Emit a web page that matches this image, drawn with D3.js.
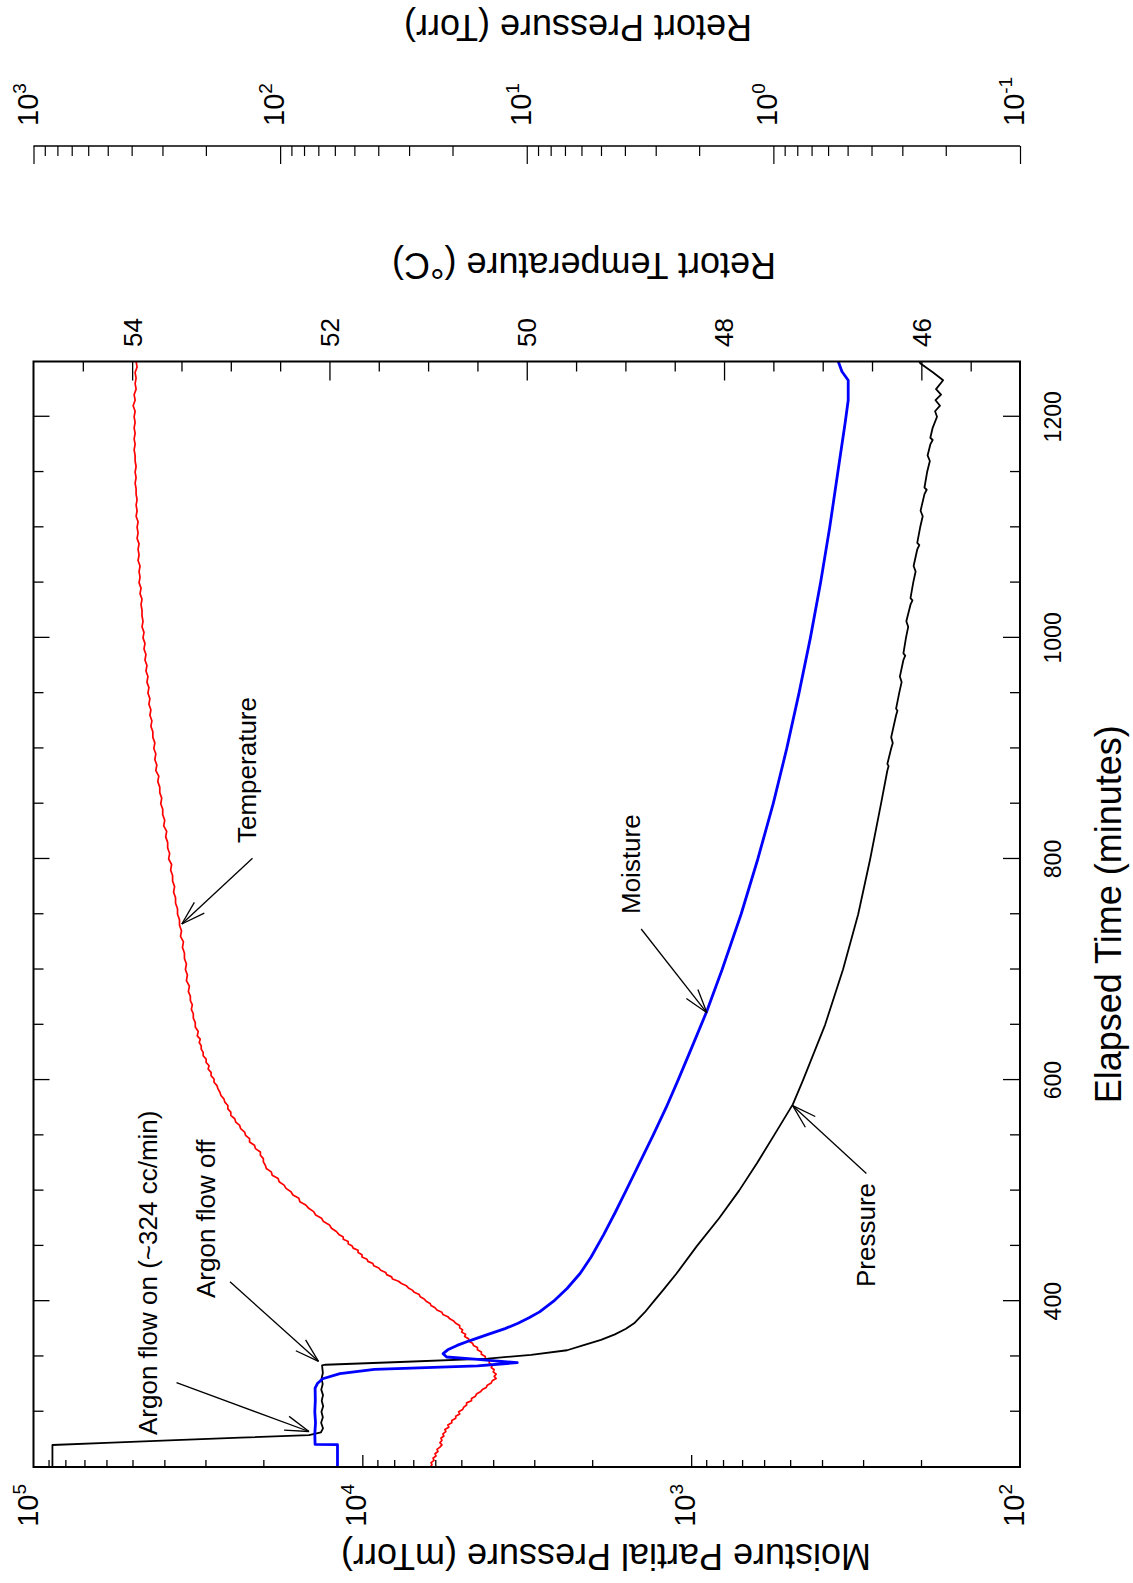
<!DOCTYPE html>
<html><head><meta charset="utf-8">
<script src="https://cdn.jsdelivr.net/npm/d3@7"></script>
<style>
html,body{margin:0;padding:0;background:#fff;}
svg{display:block;}
text{font-family:"Liberation Sans", Arial, Helvetica, sans-serif; fill:#000;}
</style></head><body>
<svg id="chart" width="1133" height="1583"></svg>
<script>
// ---------------- DATA ----------------
const timeDomain = [250, 1250];
const moistureDomain = [1e5, 1e2];
const temperatureDomain = [55, 45];
const pressureDomain = [1e3, 1e-1];

const timeTickLabels = [400, 600, 800, 1000, 1200];
const temperatureTickLabels = [54, 52, 50, 48, 46];
const moistureTickExponents = [5, 4, 3, 2];
const pressureTickExponents = [3, 2, 1, 0, -1];

// Retort temperature (deg C) vs elapsed time (min)
const temperatureSeries = [[250,50.98],[252,50.96],[254,50.97],[256,50.94],[258,50.95],[260,50.92],[262,50.93],[264,50.90],[266,50.91],[268,50.88],[270,50.86],[272,50.88],[274,50.86],[276,50.87],[278,50.84],[280,50.85],[282,50.82],[284,50.83],[286,50.79],[288,50.80],[290,50.76],[292,50.76],[294,50.72],[296,50.72],[298,50.68],[300,50.69],[302,50.65],[304,50.64],[306,50.61],[308,50.61],[310,50.56],[312,50.56],[314,50.52],[316,50.51],[318,50.47],[320,50.45],[322,50.41],[324,50.40],[326,50.36],[328,50.35],[330,50.31],[332,50.33],[334,50.31],[336,50.34],[338,50.33],[340,50.36],[342,50.35],[344,50.38],[346,50.38],[348,50.42],[350,50.42],[352,50.46],[354,50.46],[356,50.50],[358,50.50],[360,50.54],[362,50.55],[364,50.59],[366,50.59],[368,50.63],[370,50.62],[372,50.66],[374,50.65],[376,50.68],[378,50.68],[380,50.72],[382,50.74],[384,50.78],[386,50.80],[388,50.85],[390,50.86],[392,50.91],[394,50.93],[396,50.97],[398,50.98],[400,51.02],[402,51.04],[404,51.08],[406,51.09],[408,51.14],[410,51.16],[412,51.20],[414,51.22],[416,51.27],[418,51.30],[420,51.36],[422,51.37],[424,51.42],[426,51.43],[428,51.48],[430,51.50],[432,51.55],[434,51.56],[436,51.61],[438,51.62],[440,51.67],[442,51.67],[444,51.71],[446,51.71],[448,51.76],[450,51.77],[452,51.81],[454,51.81],[456,51.86],[458,51.86],[460,51.90],[463,51.93],[466,51.98],[469,52.00],[472,52.06],[475,52.08],[478,52.14],[481,52.16],[484,52.21],[487,52.24],[490,52.30],[493,52.31],[496,52.37],[499,52.39],[502,52.44],[505,52.46],[508,52.51],[511,52.52],[514,52.58],[517,52.59],[520,52.64],[523,52.65],[526,52.67],[529,52.67],[532,52.70],[535,52.70],[538,52.75],[541,52.76],[544,52.81],[547,52.81],[550,52.85],[553,52.86],[556,52.90],[559,52.91],[562,52.95],[565,52.96],[568,53.00],[571,53.00],[574,53.03],[577,53.03],[580,53.06],[583,53.07],[586,53.10],[589,53.11],[592,53.13],[595,53.14],[598,53.17],[601,53.17],[604,53.20],[607,53.20],[610,53.23],[613,53.22],[616,53.25],[619,53.25],[622,53.28],[625,53.28],[628,53.30],[631,53.30],[634,53.32],[637,53.31],[640,53.34],[644,53.33],[648,53.36],[652,53.36],[656,53.38],[660,53.38],[664,53.40],[668,53.39],[672,53.41],[676,53.41],[680,53.43],[685,53.42],[690,53.45],[695,53.44],[700,53.46],[705,53.45],[710,53.47],[715,53.47],[720,53.49],[725,53.48],[730,53.51],[735,53.50],[740,53.52],[745,53.52],[750,53.54],[755,53.54],[760,53.56],[765,53.56],[770,53.58],[775,53.57],[780,53.59],[785,53.59],[790,53.61],[795,53.60],[800,53.63],[805,53.62],[810,53.64],[815,53.64],[820,53.66],[825,53.65],[830,53.68],[835,53.67],[840,53.69],[845,53.69],[850,53.71],[855,53.70],[860,53.72],[865,53.72],[870,53.74],[875,53.73],[880,53.76],[885,53.75],[890,53.77],[895,53.76],[900,53.78],[905,53.77],[910,53.79],[915,53.79],[920,53.81],[925,53.80],[930,53.82],[935,53.81],[940,53.83],[945,53.82],[950,53.84],[955,53.83],[960,53.85],[965,53.84],[970,53.86],[975,53.85],[980,53.87],[985,53.86],[990,53.88],[995,53.87],[1000,53.89],[1005,53.88],[1010,53.90],[1015,53.89],[1020,53.90],[1025,53.90],[1030,53.91],[1035,53.90],[1040,53.92],[1045,53.91],[1050,53.93],[1055,53.92],[1060,53.93],[1065,53.92],[1070,53.94],[1075,53.93],[1080,53.94],[1085,53.93],[1090,53.95],[1095,53.94],[1100,53.95],[1105,53.94],[1110,53.96],[1115,53.95],[1120,53.96],[1125,53.95],[1130,53.96],[1135,53.96],[1140,53.97],[1145,53.96],[1150,53.97],[1155,53.96],[1160,53.97],[1165,53.97],[1170,53.98],[1175,53.97],[1180,53.98],[1185,53.97],[1190,53.98],[1195,53.97],[1200,53.98],[1205,53.97],[1210,53.99],[1215,53.97],[1220,53.98],[1225,53.96],[1230,53.97],[1235,53.96],[1240,53.97],[1245,53.95],[1250,53.96]];

// Moisture partial pressure (mTorr) vs elapsed time (min)
const moistureSeries = [[250,11900],[270.2,11900],[270.4,13920],[280,13950],[290,13880],[300,13950],[310,13900],[321.4,13920],[325.5,13700],[329.8,13200],[334.4,11700],[338.3,9190],[341.4,4460],[344.4,3380],[347.3,4460],[349.5,5540],[352.5,5680],[356,5500],[360,5150],[364.6,4680],[370,4147],[375.2,3681],[380,3361],[385,3112],[390.3,2890],[400,2620],[411.5,2385],[425,2177],[440,2015],[460,1847],[480,1704],[500,1578],[525,1435],[550,1306],[575,1192],[600,1096],[630,994],[662,897],[700,805],[750,705],[800,627],[850,563],[900,512],[950,470],[1000,434],[1050,404],[1100,379],[1150,358],[1195,340],[1215,333],[1233,333],[1241,348],[1250,357]];

// Retort pressure (Torr) vs elapsed time (min)
const pressureSeries = [[250,838],[269.9,838],[272,480],[274,282],[276.5,145],[278.9,76.4],[281.4,68.3],[285,67.0],[290,68.2],[295,67.1],[300,68.0],[305,66.9],[310,67.8],[315,67.0],[320,68.1],[325,67.2],[330,67.9],[335,67.1],[341.9,67.6],[342.5,65.5],[345,32.7],[348,14.4],[351.5,9.6],[355.6,6.86],[360,5.92],[365,5.0],[370,4.39],[375,3.96],[380,3.67],[390,3.32],[400,3.05],[410,2.80],[425,2.47],[450,2.04],[475,1.66],[500,1.377],[525,1.164],[550,0.994],[578,0.834],[600,0.758],[650,0.617],[700,0.522],[750,0.453],[800,0.405],[850,0.366],[880,0.345],[884,0.341],[886,0.345],[900,0.333],[905,0.328],[910,0.333],[930,0.318],[934,0.314],[936,0.318],[950,0.309],[960,0.302],[965,0.307],[980,0.297],[984,0.292],[986,0.297],[1000,0.290],[1010,0.284],[1015,0.289],[1030,0.278],[1034,0.273],[1036,0.278],[1050,0.271],[1060,0.265],[1065,0.270],[1080,0.261],[1084,0.256],[1086,0.261],[1100,0.254],[1110,0.248],[1115,0.253],[1130,0.244],[1134,0.239],[1136,0.244],[1150,0.238],[1160,0.232],[1165,0.237],[1175,0.231],[1179,0.226],[1181,0.231],[1190,0.226],[1200,0.217],[1205,0.221],[1210,0.211],[1215,0.220],[1220,0.209],[1225,0.219],[1233,0.205],[1240,0.225],[1248.5,0.254],[1250,0.256]];

// ---------------- LAYOUT ----------------
const W = 1133, H = 1583;
const svg = d3.select("#chart");
// whole chart is drawn unrotated, then turned 90 deg counter-clockwise
const g = svg.append("g").attr("transform", `translate(0,${H}) rotate(-90)`);
const plot = {left: 116, right: 1221.5, top: 33.5, bottom: 1020};
const pressureAxisX = 1437;

const x = d3.scaleLinear().domain(timeDomain).range([plot.left, plot.right]);
const yM = d3.scaleLog().domain(moistureDomain).range([plot.top, plot.bottom]);
const yT = d3.scaleLinear().domain(temperatureDomain).range([plot.top, plot.bottom]);
const yP = d3.scaleLog().domain(pressureDomain).range([plot.top, plot.bottom]);

function styleAxis(sel, sw){
  sel.selectAll(".domain").remove();
  sel.selectAll(".tick line").attr("stroke","#000").attr("stroke-width", sw);
  sel.selectAll(".tick text").remove();
}

// clip
g.append("clipPath").attr("id","plotclip").append("rect")
  .attr("x", plot.left).attr("y", plot.top)
  .attr("width", plot.right-plot.left).attr("height", plot.bottom-plot.top);

// ---- data lines ----
const lines = g.append("g").attr("clip-path","url(#plotclip)");
lines.append("path").datum(temperatureSeries)
  .attr("fill","none").attr("stroke","#ff0000").attr("stroke-width",1.7).attr("stroke-linejoin","round")
  .attr("d", d3.line().x(d=>x(d[0])).y(d=>yT(d[1])));
lines.append("path").datum(pressureSeries)
  .attr("fill","none").attr("stroke","#000").attr("stroke-width",1.8).attr("stroke-linejoin","round")
  .attr("d", d3.line().x(d=>x(d[0])).y(d=>yP(d[1])));
lines.append("path").datum(moistureSeries)
  .attr("fill","none").attr("stroke","#0000ff").attr("stroke-width",2.8).attr("stroke-linejoin","round")
  .attr("d", d3.line().x(d=>x(d[0])).y(d=>yM(d[1])));

// ---- ticks ----
const allTimeTicks = d3.range(300, 1201, 50);
const minorTime = allTimeTicks.filter(t => !timeTickLabels.includes(t));
g.append("g").attr("transform",`translate(0,${plot.bottom})`)
  .call(d3.axisBottom(x).tickValues(minorTime).tickSize(-10).tickSizeOuter(0)).call(styleAxis,1.3);
g.append("g").attr("transform",`translate(0,${plot.bottom})`)
  .call(d3.axisBottom(x).tickValues(timeTickLabels).tickSize(-17).tickSizeOuter(0)).call(styleAxis,1.3);
g.append("g").attr("transform",`translate(0,${plot.top})`)
  .call(d3.axisTop(x).tickValues(minorTime).tickSize(-10).tickSizeOuter(0)).call(styleAxis,1.3);
g.append("g").attr("transform",`translate(0,${plot.top})`)
  .call(d3.axisTop(x).tickValues(timeTickLabels).tickSize(-16).tickSizeOuter(0)).call(styleAxis,1.3);

// moisture (left, log)
const mMajor = [1e4, 1e3];
const mMinor = [];
[1e2,1e3,1e4].forEach(b => { for (let k=2;k<=9;k++) mMinor.push(b*k); });
g.append("g").attr("transform",`translate(${plot.left},0)`)
  .call(d3.axisLeft(yM).tickValues(mMinor).tickSize(-7).tickSizeOuter(0)).call(styleAxis,1.3);
g.append("g").attr("transform",`translate(${plot.left},0)`)
  .call(d3.axisLeft(yM).tickValues(mMajor).tickSize(-12).tickSizeOuter(0)).call(styleAxis,1.3);

// temperature (right)
const tAll = d3.range(45.5, 54.6, 0.5).map(v => +v.toFixed(1));
const tMinor = tAll.filter(v => !temperatureTickLabels.includes(v));
g.append("g").attr("transform",`translate(${plot.right},0)`)
  .call(d3.axisRight(yT).tickValues(tMinor).tickSize(-10).tickSizeOuter(0)).call(styleAxis,1.3);
g.append("g").attr("transform",`translate(${plot.right},0)`)
  .call(d3.axisRight(yT).tickValues(temperatureTickLabels).tickSize(-19).tickSizeOuter(0)).call(styleAxis,1.3);

// pressure axis (far right, log)
const pMajor = pressureTickExponents.map(e => Math.pow(10,e));
const pMinor = [];
[1e-1,1e0,1e1,1e2].forEach(b => { for (let k=2;k<=9;k++) pMinor.push(b*k); });
g.append("line").attr("x1",pressureAxisX).attr("x2",pressureAxisX)
  .attr("y1",plot.top).attr("y2",plot.bottom).attr("stroke","#000").attr("stroke-width",1.4);
g.append("g").attr("transform",`translate(${pressureAxisX},0)`)
  .call(d3.axisRight(yP).tickValues(pMinor).tickSize(-10).tickSizeOuter(0)).call(styleAxis,1.2);
g.append("g").attr("transform",`translate(${pressureAxisX},0)`)
  .call(d3.axisRight(yP).tickValues(pMajor).tickSize(-18).tickSizeOuter(0)).call(styleAxis,1.2);

// frame
g.append("rect").attr("x",plot.left).attr("y",plot.top)
  .attr("width",plot.right-plot.left).attr("height",plot.bottom-plot.top)
  .attr("fill","none").attr("stroke","#000").attr("stroke-width",2);

// ---- tick labels ----
g.append("g").selectAll("text").data(timeTickLabels).join("text")
  .attr("x", d=>x(d)).attr("y", plot.bottom+41).attr("text-anchor","middle")
  .attr("font-size",23).text(d=>d);

g.append("g").selectAll("text").data(temperatureTickLabels).join("text")
  .attr("x", plot.right+14.5).attr("y", d=>yT(d)).attr("dy","0.36em")
  .attr("font-size",26).text(d=>d);

function expLabel(sel, anchor, xpos, scale){
  sel.each(function(e){
    const t = d3.select(this);
    t.attr("x", xpos).attr("y", scale(Math.pow(10,e)) + 4).attr("text-anchor", anchor).attr("font-size",29);
    t.append("tspan").text("10");
    t.append("tspan").attr("dy",-12).attr("font-size",19).text(String(e));
  });
}
g.append("g").selectAll("text").data(moistureTickExponents).join("text")
  .call(expLabel, "end", 99, yM);
g.append("g").selectAll("text").data(pressureTickExponents).join("text")
  .call(expLabel, "start", pressureAxisX+20, yP);

// ---- axis titles ----
g.append("text").attr("transform",`translate(26,606) rotate(-90)`)
  .attr("text-anchor","middle").attr("dy","0.35em").attr("font-size",36)
  .text("Moisture Partial Pressure (mTorr)");
g.append("text").attr("transform",`translate(1317,584) rotate(-90)`)
  .attr("text-anchor","middle").attr("dy","0.35em").attr("font-size",36)
  .text("Retort Temperature (\u00B0C)");
g.append("text").attr("transform",`translate(1555,578) rotate(-90)`)
  .attr("text-anchor","middle").attr("dy","0.35em").attr("font-size",36)
  .text("Retort Pressure (Torr)");
g.append("text").attr("x", (plot.left+plot.right)/2).attr("y", 1121)
  .attr("text-anchor","middle").attr("font-size",36).text("Elapsed Time (minutes)");

// ---- annotations (positions in data coordinates: time, temperature scale) ----
const vT = v => yT.invert(v);
const notes = [
  {text:"Argon flow on (~324 cc/min)", tx:x.invert(148), ty:vT(148), from:[x.invert(200.4), vT(176.5)], to:[x.invert(151.5), vT(309)]},
  {text:"Argon flow off", tx:x.invert(285), ty:vT(206), from:[x.invert(301.3), vT(230)], to:[x.invert(221.7), vT(318.5)]},
  {text:"Temperature", tx:x.invert(740), ty:vT(247), from:[x.invert(724.7), vT(252.5)], to:[x.invert(659), vT(181.8)]},
  {text:"Moisture", tx:x.invert(669), ty:vT(631), from:[x.invert(654), vT(641.2)], to:[x.invert(570.2), vT(706.9)]},
  {text:"Pressure", tx:x.invert(296), ty:vT(866), from:[x.invert(409.6), vT(866.4)], to:[x.invert(477.3), vT(792.7)]}
];
const ann = g.append("g");
notes.forEach(n => {
  ann.append("text").attr("x", x(n.tx)).attr("y", yT(n.ty)).attr("dy","0.36em")
    .attr("font-size",26).text(n.text);
  const x1 = x(n.from[0]), y1 = yT(n.from[1]), x2 = x(n.to[0]), y2 = yT(n.to[1]);
  ann.append("line").attr("x1",x1).attr("y1",y1).attr("x2",x2).attr("y2",y2)
    .attr("stroke","#000").attr("stroke-width",1.3);
  const ang = Math.atan2(y1-y2, x1-x2), L = 25, a = 17*Math.PI/180;
  [ang-a, ang+a].forEach(b => {
    ann.append("line").attr("x1",x2).attr("y1",y2)
      .attr("x2",x2+L*Math.cos(b)).attr("y2",y2+L*Math.sin(b))
      .attr("stroke","#000").attr("stroke-width",1.3);
  });
});
</script>
</body></html>
